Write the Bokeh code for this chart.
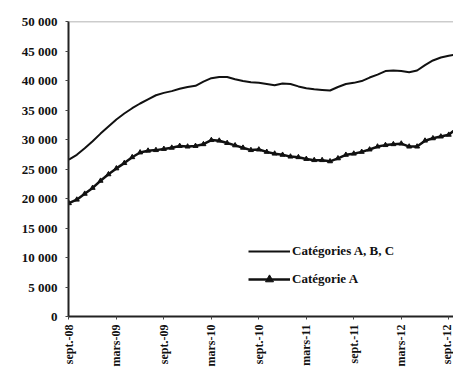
import math
from bokeh.plotting import figure
from bokeh.models import FixedTicker, Legend, LegendItem, Range1d, Span
from bokeh.embed import file_html
from bokeh.resources import INLINE

# ---- data (monthly, Sept 2008 -> Oct 2012) ----
months = ["sept.-08", "oct.-08", "nov.-08", "déc.-08", "janv.-09", "févr.-09",
          "mars-09", "avr.-09", "mai-09", "juin-09", "juil.-09", "août-09",
          "sept.-09", "oct.-09", "nov.-09", "déc.-09", "janv.-10", "févr.-10",
          "mars-10", "avr.-10", "mai-10", "juin-10", "juil.-10", "août-10",
          "sept.-10", "oct.-10", "nov.-10", "déc.-10", "janv.-11", "févr.-11",
          "mars-11", "avr.-11", "mai-11", "juin-11", "juil.-11", "août-11",
          "sept.-11", "oct.-11", "nov.-11", "déc.-11", "janv.-12", "févr.-12",
          "mars-12", "avr.-12", "mai-12", "juin-12", "juil.-12", "août-12",
          "sept.-12", "oct.-12"]
cat_abc = [26600, 27400, 28500, 29700, 31000, 32200, 33400, 34400, 35300, 36100,
           36800, 37500, 37900, 38200, 38600, 38900, 39100, 39800, 40400, 40600,
           40600, 40200, 39900, 39700, 39600, 39400, 39200, 39500, 39400, 39000,
           38700, 38500, 38400, 38300, 38900, 39400, 39600, 39900, 40500, 41000,
           41600, 41700, 41600, 41400, 41700, 42600, 43400, 43900, 44200, 44400]
cat_a = [19200, 19800, 20800, 21800, 23000, 24100, 25100, 26000, 27000, 27800,
         28100, 28200, 28400, 28600, 28900, 28800, 28900, 29200, 29900, 29800,
         29400, 29000, 28600, 28200, 28300, 27900, 27600, 27400, 27100, 27000,
         26700, 26500, 26500, 26300, 26800, 27400, 27600, 27900, 28300, 28800,
         29050, 29200, 29300, 28800, 28800, 29800, 30200, 30500, 30800, 31900]
x_ticks = ["sept.-08", "mars-09", "sept.-09", "mars-10", "sept.-10",
           "mars-11", "sept.-11", "mars-12", "sept.-12"]
y_ticks = [0, 5000, 10000, 15000, 20000, 25000, 30000, 35000, 40000, 45000, 50000]
y_tick_labels = ["0", "5 000", "10 000", "15 000", "20 000", "25 000", "30 000",
                 "35 000", "40 000", "45 000", "50 000"]
legend_labels = ["Catégories A, B, C", "Catégorie A"]

idx = list(range(len(months)))
FONT = "Liberation Serif"
INK = "#111111"

p = figure(width=453, height=369, output_backend="svg", toolbar_location=None,
           x_range=Range1d(-0.05, 48.6), y_range=Range1d(0, 50000),
           min_border_left=68, min_border_top=21, min_border_right=0,
           min_border_bottom=52)
p.outline_line_color = None
p.grid.visible = False
p.background_fill_color = "white"
p.border_fill_color = "white"

# x axis
xpos = [months.index(m) for m in x_ticks]
p.xaxis.ticker = FixedTicker(ticks=xpos, minor_ticks=[])
p.xaxis.major_label_overrides = {i: m for i, m in zip(xpos, x_ticks)}
p.xaxis.major_label_orientation = math.pi / 2
p.xaxis.major_label_text_font = FONT
p.xaxis.major_label_text_font_style = "bold"
p.xaxis.major_label_text_font_size = "12px"
p.xaxis.major_label_text_color = INK
p.xaxis.major_label_standoff = 5
p.xaxis.major_tick_out = 3
p.xaxis.major_tick_in = 0
p.xaxis.axis_line_width = 2
p.xaxis.axis_line_color = "#222222"
p.xaxis.major_tick_line_color = "#444444"

# y axis
p.yaxis.ticker = FixedTicker(ticks=y_ticks, minor_ticks=[])
p.yaxis.major_label_overrides = {v: s for v, s in zip(y_ticks, y_tick_labels)}
p.yaxis.major_label_text_font = FONT
p.yaxis.major_label_text_font_style = "bold"
p.yaxis.major_label_text_font_size = "13px"
p.yaxis.major_label_text_color = INK
p.yaxis.major_label_standoff = 8
p.yaxis.major_tick_out = 3
p.yaxis.major_tick_in = 0
p.yaxis.axis_line_width = 2
p.yaxis.axis_line_color = "#222222"
p.yaxis.major_tick_line_color = "#444444"

# thin grey top border of the plot area
p.add_layout(Span(location=y_ticks[-1], dimension="width",
                  line_color="#9a9a9a", line_width=1.5))

r1 = p.line(idx, cat_abc, line_color=INK, line_width=2)
r2 = p.line(idx, cat_a, line_color=INK, line_width=2.5)
r3 = p.scatter(idx, cat_a, marker="triangle", size=5, fill_color=INK,
               line_color=INK)

legend = Legend(items=[LegendItem(label=legend_labels[0], renderers=[r1]),
                       LegendItem(label=legend_labels[1], renderers=[r2, r3])],
                location=(180, 27), orientation="vertical",
                glyph_width=42, glyph_height=20, label_height=20, spacing=8,
                padding=0, margin=0, label_standoff=2,
                border_line_color=None, background_fill_alpha=0,
                label_text_font=FONT, label_text_font_style="bold",
                label_text_font_size="13px", label_text_color=INK)
p.add_layout(legend, "center")

open("out.html", "w").write(file_html(p, INLINE))
